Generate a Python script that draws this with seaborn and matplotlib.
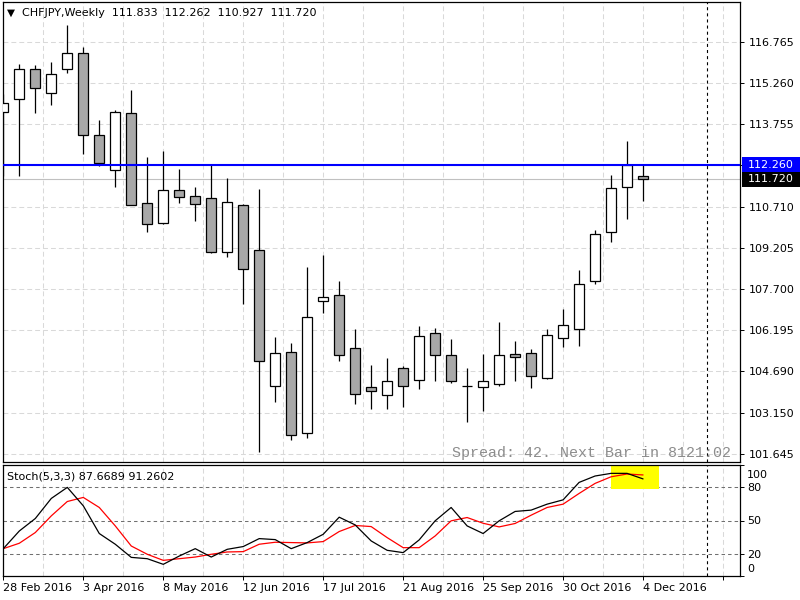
import numpy as np
import pandas as pd
import matplotlib
matplotlib.use("Agg")
import matplotlib.pyplot as plt
import matplotlib.transforms as mtransforms
from matplotlib.patches import Rectangle
import seaborn as sns

sns.set_style("white")
plt.rcParams["font.family"] = ["DejaVu Sans"]
plt.rcParams["lines.scale_dashes"] = False

# ---------------------------------------------------------------------------
# Data: CHFJPY weekly bars, 28 Feb 2016 .. 4 Dec 2016
# ---------------------------------------------------------------------------
opens = [114.184, 114.661, 115.763, 114.882, 115.763, 116.350, 113.340, 112.055,
         114.147, 110.843, 110.110, 111.321, 111.100, 111.027, 109.045, 110.770,
         109.118, 104.125, 105.374, 102.400, 107.246, 107.466, 105.521, 104.088,
         103.795, 104.786, 104.346, 106.071, 105.263, 104.130, 104.088, 104.199,
         105.300, 105.337, 104.419, 105.888, 106.218, 107.980, 109.779, 111.431,
         111.833]
highs = [114.856, 115.957, 115.910, 116.031, 117.389, 116.570, 113.902, 114.269,
         115.003, 112.554, 112.764, 112.103, 111.431, 112.261, 111.772, 110.818,
         111.369, 105.935, 105.704, 108.494, 108.946, 107.980, 106.218, 104.907,
         105.153, 104.860, 106.328, 106.255, 105.851, 104.786, 105.300, 106.475,
         105.777, 105.484, 106.218, 106.952, 108.384, 109.852, 111.872, 113.120,
         112.262]
lows = [111.850, 111.857, 114.170, 114.463, 115.638, 112.664, 112.224, 111.453,
        110.790, 109.801, 110.073, 110.843, 110.205, 109.030, 108.883, 107.136,
        101.703, 103.560, 102.143, 102.238, 106.827, 105.065, 103.465, 103.303,
        103.303, 103.377, 104.037, 104.331, 104.235, 102.804, 103.208, 104.125,
        104.331, 104.051, 104.382, 105.557, 105.594, 107.870, 109.434, 110.256,
        110.927]
closes = [114.515, 115.763, 115.065, 115.579, 116.350, 113.340, 112.334, 114.184,
          110.792, 110.073, 111.332, 111.064, 110.807, 109.067, 110.880, 108.420,
          105.043, 105.337, 102.327, 106.659, 107.393, 105.263, 103.832, 103.942,
          104.309, 104.125, 105.961, 105.263, 104.309, 104.120, 104.309, 105.263,
          105.190, 104.493, 105.998, 106.365, 107.870, 109.705, 111.394, 112.261,
          111.720]

# Stochastic(5,3,3): main (%K) and signal (%D)
stoch_main = [24.5, 40.5, 51.8, 70.0, 80.0, 63.3, 38.2, 28.5, 16.6, 15.4, 10.3,
              17.8, 24.5, 16.9, 23.9, 26.4, 33.6, 32.7, 24.5, 30.0, 37.5, 53.0,
              46.0, 31.5, 23.0, 20.9, 32.4, 49.7, 61.8, 45.1, 38.2, 49.7, 58.2,
              59.4, 64.8, 68.7, 84.5, 90.3, 92.7, 92.7, 87.6689]
stoch_signal = [24.5, 29.4, 39.1, 54.2, 67.2, 70.9, 61.8, 45.1, 26.9, 19.4, 13.9,
                15.4, 16.9, 19.4, 21.5, 21.8, 28.5, 30.3, 30.0, 29.7, 30.9, 40.0,
                45.5, 44.5, 34.5, 25.4, 25.4, 36.0, 49.7, 52.7, 47.5, 44.2, 47.3,
                54.8, 61.8, 64.8, 74.5, 83.6, 89.6, 92.1, 91.2602]

date_labels = ["28 Feb 2016", "3 Apr 2016", "8 May 2016", "12 Jun 2016",
               "17 Jul 2016", "21 Aug 2016", "25 Sep 2016", "30 Oct 2016",
               "4 Dec 2016"]
price_ticks = [116.765, 115.260, 113.755, 112.250, 110.710, 109.205, 107.700,
               106.195, 104.690, 103.150, 101.645]
stoch_ticks = [0, 20, 50, 80, 100]
stoch_levels = [20, 50, 80]

level_price = 112.260   # blue horizontal line
bid_price = 111.720
header = "CHFJPY,Weekly  111.833  112.262  110.927  111.720"
stoch_title = "Stoch(5,3,3) 87.6689 91.2602"
status_text = "Spread: 42. Next Bar in 8121:02"

df = pd.DataFrame({"open": opens, "high": highs, "low": lows, "close": closes,
                   "main": stoch_main, "signal": stoch_signal})
df["bar"] = np.arange(len(df))
df["bull"] = df["close"] >= df["open"]

# ---------------------------------------------------------------------------
# Layout in pixels (800 x 600)
# ---------------------------------------------------------------------------
W, H = 800, 600
fig = plt.figure(figsize=(8, 6), dpi=100)
fig.patch.set_facecolor("white")


def px_axes(x0, y0, x1, y1):
    return fig.add_axes([x0 / W, 1 - y1 / H, (x1 - x0) / W, (y1 - y0) / H])


def px_text(x, y, s, **kw):
    return fig.text(x / W, 1 - y / H, s, **kw)


ax = px_axes(3, 2.3, 740.3, 462.3)
ax2 = px_axes(3, 465.3, 740.3, 575.7)

grid_col = "#d9d9d9"
grid_ls = (0, (3.5, 2.2))
xlim = (-0.02, 46.08)
grid_x = np.arange(2.5, 46, 2.5)

# ---------------------------------------------------------------------------
# Price panel
# ---------------------------------------------------------------------------
ax.set_xlim(*xlim)
ax.set_ylim(101.335, 118.222)
for gx in grid_x:
    ax.axvline(gx, color=grid_col, lw=0.75, ls=grid_ls, zorder=0)
for gy in price_ticks:
    ax.axhline(gy, color=grid_col, lw=0.75, ls=grid_ls, zorder=0)

ax.axhline(bid_price, color="#c0c0c0", lw=0.8, zorder=1)

ax.vlines(df["bar"], df["low"], df["high"], color="black", lw=0.9, zorder=2)
body_low = df[["open", "close"]].min(axis=1)
body_h = (df["close"] - df["open"]).abs().clip(lower=0.005)
body_col = np.where(df["bull"], "white", "#a8a8a8")
ax.bar(df["bar"], body_h, bottom=body_low, width=0.62, color=body_col,
       edgecolor="black", linewidth=0.9, zorder=3)

ax.axhline(level_price, color="#0000ff", lw=1.5, zorder=4)
ax.axvline(44, color="black", lw=0.8, ls=(0, (2.2, 2.2)), zorder=4)

ax.yaxis.tick_right()
ax.set_yticks(price_ticks)
ax.set_yticklabels([f"{v:.3f}" if abs(v - level_price) > 0.05 else ""
                    for v in price_ticks])
ax.tick_params(axis="y", right=True, left=False, length=3, width=0.7, pad=3,
               labelsize=8, colors="black")
ax.tick_params(axis="x", bottom=False, labelbottom=False)
ax.set_xlabel("")
ax.set_ylabel("")

# price boxes on the right scale
blend = mtransforms.blended_transform_factory(ax.transAxes, ax.transData)
box_w = 60 / 737.3
box_h = 14.5 / 27.24
for price, col in [(level_price, "#0000ff"), (bid_price, "black")]:
    ax.add_patch(Rectangle((1.002, price - box_h / 2), box_w, box_h,
                           transform=blend, facecolor=col, edgecolor="none",
                           clip_on=False, zorder=6))
    ax.text(1.0 + 7.4 / 737.3, price, f"{price:.3f}", transform=blend,
            ha="left", va="center", color="white", fontsize=8, zorder=7,
            clip_on=False)

# ---------------------------------------------------------------------------
# Stochastic panel
# ---------------------------------------------------------------------------
ax2.set_xlim(*xlim)
ax2.set_ylim(0, 100)
for gx in grid_x:
    ax2.axvline(gx, color=grid_col, lw=0.75, ls=grid_ls, zorder=0)
for lv in stoch_levels:
    ax2.axhline(lv, color="#707070", lw=0.75, ls=(0, (2.5, 2.2)), zorder=1)

ax2.add_patch(Rectangle((37.98, 78.2), 3.0, 20.9, facecolor="#ffff00",
                        edgecolor="none", zorder=1.5))

sns.lineplot(data=df, x="bar", y="main", color="black", lw=0.9, ax=ax2,
             zorder=3)
sns.lineplot(data=df, x="bar", y="signal", color="#ff0000", lw=0.9, ax=ax2,
             zorder=2.5)
ax2.axvline(44, color="black", lw=0.8, ls=(0, (2.2, 2.2)), zorder=4)

ax2.set_xlabel("")
ax2.set_ylabel("")
ax2.set_xticks(np.arange(0, 46, 5))
ax2.set_xticklabels(date_labels + [""])
for lbl in ax2.get_xticklabels():
    lbl.set_horizontalalignment("left")
ax2.tick_params(axis="x", bottom=True, length=3, width=0.7, pad=2,
                labelsize=8, colors="black")

ax2.yaxis.tick_right()
ax2.set_yticks(stoch_ticks)
ax2.set_yticklabels([str(v) for v in stoch_ticks])
ax2.tick_params(axis="y", right=True, left=False, length=3, width=0.7, pad=2,
                labelsize=8, colors="black")
for lbl in ax2.get_yticklabels():
    if lbl.get_text() == "100":
        lbl.set_transform(lbl.get_transform() + mtransforms.ScaledTranslation(
            0, -8.5 / 100, fig.dpi_scale_trans))
    elif lbl.get_text() == "0":
        lbl.set_transform(lbl.get_transform() + mtransforms.ScaledTranslation(
            0, 7.5 / 100, fig.dpi_scale_trans))

for a in (ax, ax2):
    for s in a.spines.values():
        s.set_color("black")
        s.set_linewidth(0.9)
        s.set_visible(True)

# ---------------------------------------------------------------------------
# Texts
# ---------------------------------------------------------------------------
px_text(6.5, 12.3, "\u25bc", fontsize=7.5, ha="left", va="center", color="black")
px_text(21.5, 13.3, header, fontsize=8, ha="left", va="center", color="black")
px_text(7.3, 476.7, stoch_title, fontsize=8, ha="left", va="center",
        color="black")
px_text(451.7, 453, status_text, fontsize=10.8, family=["Liberation Mono"],
        ha="left", va="center", color="#8c8c8c")

fig.savefig("out.png", dpi=100, facecolor="white")
